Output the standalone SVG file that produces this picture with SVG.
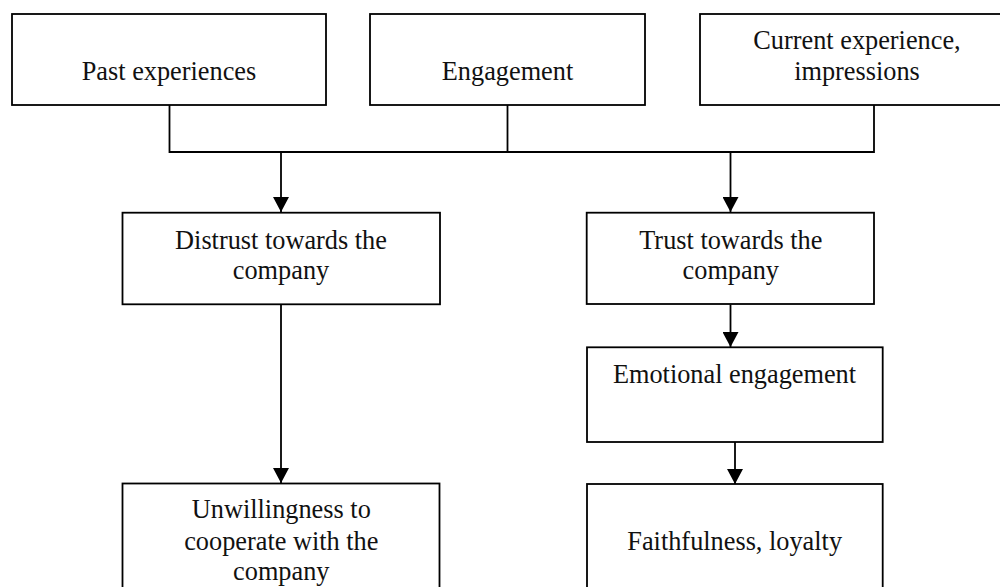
<svg xmlns="http://www.w3.org/2000/svg" width="1000" height="587" viewBox="0 0 1000 587">
  <style>
    .box { fill: #ffffff; stroke: #000000; stroke-width: 1.8; }
    .lbl { font-family: "Liberation Serif", "Times New Roman", serif; font-size: 26.3px; fill: #111111; text-anchor: middle; }
    .conn { fill: none; stroke: #000000; stroke-width: 1.8; }
  </style>
  <defs>
    <marker id="arrow" markerUnits="userSpaceOnUse" markerWidth="16" markerHeight="16" refX="15" refY="8" orient="auto">
      <path d="M0,0 L15,8 L0,16 Z" fill="#000000"/>
    </marker>
  </defs>
  <rect width="1000" height="587" fill="#ffffff"/>

  <g id="connectors">
    <polyline class="conn" points="169.5,105 169.5,152 874,152 874,105"/>
    <line class="conn" x1="507.5" y1="105" x2="507.5" y2="152"/>
    <line class="conn" x1="281" y1="152" x2="281" y2="212" marker-end="url(#arrow)"/>
    <line class="conn" x1="730.5" y1="152" x2="730.5" y2="212" marker-end="url(#arrow)"/>
    <line class="conn" x1="281" y1="304.5" x2="281" y2="483" marker-end="url(#arrow)"/>
    <line class="conn" x1="730.5" y1="304.5" x2="730.5" y2="347" marker-end="url(#arrow)"/>
    <line class="conn" x1="735" y1="442" x2="735" y2="484" marker-end="url(#arrow)"/>
  </g>

  <g id="past">
    <rect class="box" x="12" y="14" width="314" height="91"/>
    <text class="lbl" x="169" y="80">Past experiences</text>
  </g>
  <g id="engagement">
    <rect class="box" x="370" y="14" width="275" height="91"/>
    <text class="lbl" x="507.5" y="80">Engagement</text>
  </g>
  <g id="current">
    <rect class="box" x="700" y="14" width="314" height="91"/>
    <text class="lbl" x="857" y="48.5">Current experience,</text>
    <text class="lbl" x="857" y="80">impressions</text>
  </g>
  <g id="distrust">
    <rect class="box" x="122.5" y="212.7" width="317.5" height="91.6"/>
    <text class="lbl" x="281" y="248.5">Distrust towards the</text>
    <text class="lbl" x="281" y="278.5">company</text>
  </g>
  <g id="trust">
    <rect class="box" x="586.7" y="212.7" width="287.3" height="91.3"/>
    <text class="lbl" x="730.8" y="248.5">Trust towards the</text>
    <text class="lbl" x="730.8" y="278.5">company</text>
  </g>
  <g id="emotional">
    <rect class="box" x="587" y="347.3" width="295.7" height="94.7"/>
    <text class="lbl" x="734.5" y="382.7">Emotional engagement</text>
  </g>
  <g id="unwillingness">
    <rect class="box" x="122.5" y="483.5" width="317" height="130"/>
    <text class="lbl" x="281.3" y="518.3">Unwillingness to</text>
    <text class="lbl" x="281.3" y="549.5">cooperate with the</text>
    <text class="lbl" x="281.3" y="580">company</text>
  </g>
  <g id="faithfulness">
    <rect class="box" x="587" y="484" width="295.7" height="130"/>
    <text class="lbl" x="734.7" y="550">Faithfulness, loyalty</text>
  </g>
</svg>
